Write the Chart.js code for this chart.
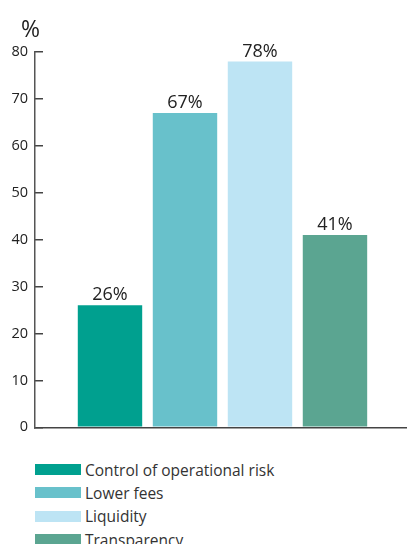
<!DOCTYPE html>
<html>
<head>
<meta charset="utf-8">
<script src="https://cdn.jsdelivr.net/npm/chart.js@4"></script>
<style>
  html, body { margin: 0; padding: 0; background: #fff; }
  #wrap { position: relative; width: 408px; height: 544px; overflow: hidden; font-family: "Open Sans", sans-serif; }
  #c { position: absolute; left: 0; top: 0; }
  #unit { position: absolute; left: 21px; top: 12px; font-size: 23px; color: #222; }
  #legend { position: absolute; left: 35px; top: 458px; }
  .row { display: flex; align-items: center; height: 23.3px; font-size: 15.5px; color: #333; }
  .sw { width: 46px; height: 11px; margin-right: 4px; }
</style>
</head>
<body>
<div id="wrap">
  <canvas id="c" width="408" height="451"></canvas>
  <div id="unit">%</div>
  <div id="legend"></div>
</div>
<script>
// ===== DATA =====
const categories = ["Control of operational risk", "Lower fees", "Liquidity", "Transparency"];
const values = [26, 67, 78, 41];
const colors = ["#00a08f", "#68c1cb", "#bde4f4", "#5ba591"];
const yTicks = [0, 10, 20, 30, 40, 50, 60, 70, 80];

// one dataset per category so each gets its own colour + legend entry
const datasets = categories.map((name, i) => ({
  label: name,
  data: [{ x: i + 1, y: values[i] }],
  backgroundColor: colors[i],
  borderWidth: 0,
  grouped: false,
  categoryPercentage: 1,
  barPercentage: 0.907
}));

// ===== VALUE LABELS ON TOP OF BARS =====
const barLabels = {
  id: "barLabels",
  afterDatasetsDraw(chart) {
    const ctx = chart.ctx;
    ctx.save();
    ctx.font = "18px 'Open Sans', sans-serif";
    ctx.fillStyle = "#222";
    ctx.textAlign = "center";
    ctx.textBaseline = "bottom";
    chart.data.datasets.forEach((ds, i) => {
      const bar = chart.getDatasetMeta(i).data[0];
      ctx.fillText(ds.data[0].y + "%", bar.x, bar.y - 1);
    });
    ctx.restore();
  }
};

const chart = new Chart(document.getElementById("c"), {
  type: "bar",
  data: { datasets },
  options: {
    responsive: false,
    animation: false,
    layout: { padding: { top: 52, right: 2, left: 0, bottom: 0 } },
    plugins: { legend: { display: false }, tooltip: { enabled: false } },
    scales: {
      x: {
        type: "linear",
        offset: false,
        min: 0,
        max: 4.947,
        ticks: { display: false },
        grid: { display: false },
        border: { display: true, color: "#444", width: 1.5 },
        afterFit: s => { s.height = 2; }
      },
      y: {
        min: 0,
        max: 80,
        afterBuildTicks: s => { s.ticks = yTicks.map(v => ({ value: v })); },
        ticks: { color: "#222", font: { size: 14.5, family: "'Open Sans', sans-serif" }, padding: 15 },
        grid: { drawOnChartArea: false, tickLength: -8, color: "#444", lineWidth: 1.5 },
        border: { display: true, color: "#555", width: 1.5 },
        afterFit: s => { s.width = 35; }
      }
    }
  },
  plugins: [barLabels]
});

// ===== LEGEND =====
const legend = document.getElementById("legend");
chart.data.datasets.forEach(ds => {
  const row = document.createElement("div");
  row.className = "row";
  const sw = document.createElement("div");
  sw.className = "sw";
  sw.style.background = ds.backgroundColor;
  const txt = document.createElement("span");
  txt.textContent = ds.label;
  row.appendChild(sw);
  row.appendChild(txt);
  legend.appendChild(row);
});
</script>
</body>
</html>
